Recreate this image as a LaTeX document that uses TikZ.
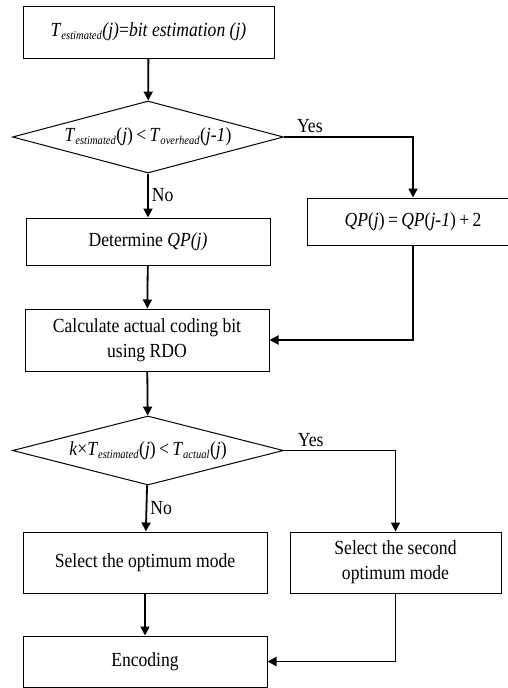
\documentclass[tikz,border=0pt]{standalone}
\usepackage{fontspec}
\setmainfont[FakeStretch=0.88]{Liberation Serif}
\usepackage{tikz}
\usetikzlibrary{positioning,arrows.meta,shapes.geometric,calc}
\newcommand{\Tsb}[1]{\textit{T}\textsubscript{\fontsize{12}{12}\selectfont\textit{#1}}}

\begin{document}
\begin{tikzpicture}[
  x=1pt, y=-1pt,
  font=\fontsize{20}{25}\selectfont,
  % ── node styles ──────────────────────────────────────────
  box/.style={
    rectangle, draw, line width=1pt,
    align=center, inner sep=2pt
  },
  decide/.style={
    diamond, draw, line width=1pt,
    inner sep=0pt, minimum width=271pt
  },
  % ── link styles ──────────────────────────────────────────
  flow/.style={line width=1.8pt, -{Triangle[length=9pt,width=9pt]}},
  % ── label ────────────────────────────────────────────────
  lbl/.style={inner sep=3pt},
]
\useasboundingbox (0,0) rectangle (508,688);

%% ── LEFT COLUMN ──────────────────────────────────────────────
\node[box, minimum width=251pt, minimum height=52pt] (EST) at (148.5,32)
  {\Tsb{estimated}\textit{(j)}=\textit{bit estimation (j)}};
\node[decide, minimum height=72pt] (D1) at (148,137)
  {\makebox[0pt]{\Tsb{estimated}(\textit{j})\,<\,\Tsb{overhead}(\textit{j-1})}};
\node[box, minimum width=244pt, minimum height=47pt] (DET) at (148,241.5)
  {Determine \textit{QP(j)}};
\node[box, minimum width=244pt, minimum height=62pt] (CALC) at (147,340)
  {Calculate actual coding bit\\using RDO};
\node[decide, minimum height=69pt] (D2) at (148,450.5)
  {\makebox[0pt]{\textit{k}×\Tsb{estimated}(\textit{j})\,<\,\Tsb{actual}(\textit{j})}};
\node[box, minimum width=244pt, minimum height=61pt] (OPT) at (145,562.5)
  {Select the optimum mode};
\node[box, minimum width=244pt, minimum height=51pt] (ENC) at (145,661.5)
  {Encoding};

%% ── RIGHT COLUMN ─────────────────────────────────────────────
\node[box, minimum width=212pt, minimum height=47pt] (QP) at (413,221.5)
  {\textit{QP}(\textit{j})\,=\,\textit{QP}(\textit{j-1})\,+\,2};
\node[box, minimum width=211pt, minimum height=61pt] (SEC) at (395.5,562.5)
  {Select the second\\optimum mode};

%% ── MAIN FLOW ────────────────────────────────────────────────
\draw[flow] (EST)--(D1);
\draw[flow] (D1)--(DET) node[midway, right, lbl]{No};
\draw[flow] (DET)--(CALC);
\draw[flow] (CALC)--(D2);
\draw[flow] (D2)--(OPT) node[midway, right, lbl]{No};
\draw[flow] (OPT)--(ENC);

%% ── YES BRANCHES ─────────────────────────────────────────────
\draw[flow] (D1.east) -| (QP.north)
  node[pos=0.1, above, lbl]{Yes};
\draw[flow] (QP.south) |- (CALC.east);
\draw[flow] (D2.east) -| (SEC.north)
  node[pos=0.12, above, lbl]{Yes};
\draw[flow] (SEC.south) |- (ENC.east);

\end{tikzpicture}
\end{document}
